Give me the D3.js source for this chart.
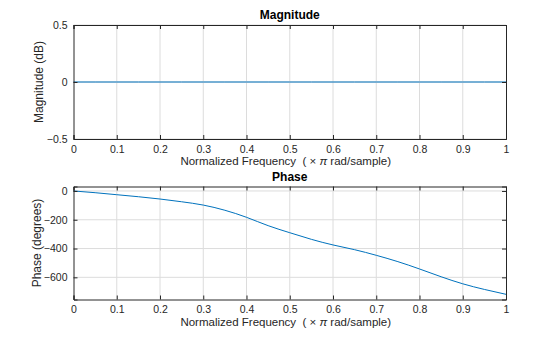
<!DOCTYPE html>
<html>
<head>
<meta charset="utf-8">
<script src="https://d3js.org/d3.v7.min.js"></script>
<style>
  body { margin: 0; background: #fff; }
  svg { display: block; font-family: "Liberation Sans", Arial, sans-serif; }
  .grid line { stroke: #dcdcdc; stroke-width: 1; }
  .tick text { fill: #262626; font-size: 10.5px; }
  .xlab { white-space: pre; }
</style>
</head>
<body>
<svg id="chart" width="560" height="337"></svg>
<script>
// normalized frequency (x pi rad/sample)
const freq = [0, 0.05, 0.1, 0.15, 0.2, 0.25, 0.3, 0.35, 0.4, 0.45, 0.5,
              0.55, 0.6, 0.65, 0.7, 0.75, 0.8, 0.85, 0.9, 0.95, 1];
// magnitude response (dB) - flat, allpass
const magDb = [0, 0, 0, 0, 0, 0, 0, 0, 0, 0, 0,
               0, 0, 0, 0, 0, 0, 0, 0, 0, 0];
// phase response (degrees)
const phaseDeg = [0, -12, -26, -40, -56, -75, -98, -134, -183, -241, -290,
                  -336, -375, -408, -447, -491, -542, -596, -645, -684, -718];

const xTicks = [0, 0.1, 0.2, 0.3, 0.4, 0.5, 0.6, 0.7, 0.8, 0.9, 1];
const magTicks = [-0.5, 0, 0.5];
const phaseTicks = [-600, -400, -200, 0];

const svg = d3.select("#chart");
const left = 73.5, right = 506;
const axisColor = "#262626";
const lineColor = "#0072bd";

function panel(opts) {
  const x = d3.scaleLinear().domain([0, 1]).range([left, right]);
  const y = d3.scaleLinear().domain(opts.yDomain).range([opts.bottom, opts.top]);
  const g = svg.append("g");

  // grid
  const grid = g.append("g").attr("class", "grid");
  grid.selectAll(".gx").data(xTicks.slice(1, -1)).join("line")
    .attr("x1", d => x(d)).attr("x2", d => x(d))
    .attr("y1", opts.top).attr("y2", opts.bottom);
  grid.selectAll(".gy").data(opts.yTicks).join("line")
    .attr("x1", left).attr("x2", right)
    .attr("y1", d => y(d)).attr("y2", d => y(d));

  // data line
  const line = d3.line().x((d, i) => x(freq[i])).y(d => y(d)).curve(d3.curveNatural);
  g.append("path").datum(opts.values)
    .attr("fill", "none").attr("stroke", lineColor).attr("stroke-width", 1)
    .attr("d", line);

  // axes (ticks inside, mirrored on all sides)
  const axB = g.append("g").attr("transform", `translate(0,${opts.bottom})`)
    .call(d3.axisBottom(x).tickValues(xTicks).tickSize(-4).tickPadding(8).tickFormat(d3.format("")));
  const axT = g.append("g").attr("transform", `translate(0,${opts.top})`)
    .call(d3.axisTop(x).tickValues(xTicks).tickSize(-4).tickFormat(""));
  const axL = g.append("g").attr("transform", `translate(${left},0)`)
    .call(d3.axisLeft(y).tickValues(opts.yTicks).tickSize(-4).tickPadding(6).tickFormat(d3.format("")));
  const axR = g.append("g").attr("transform", `translate(${right},0)`)
    .call(d3.axisRight(y).tickValues(opts.yTicks).tickSize(-4).tickFormat(""));
  [axB, axT, axL, axR].forEach(a => {
    a.selectAll(".domain").attr("stroke", axisColor);
    a.selectAll(".tick line").attr("stroke", axisColor);
    a.selectAll(".tick text").attr("fill", axisColor);
  });
  axB.selectAll(".tick text").attr("dy", "0.55em");

  // title
  g.append("text").attr("x", (left + right) / 2).attr("y", opts.top - 6)
    .attr("text-anchor", "middle").attr("font-size", 12).attr("font-weight", "bold")
    .attr("fill", "#000").text(opts.title);

  // x label
  const xl = g.append("text").attr("class", "xlab")
    .attr("x", (left + right) / 2 - 4).attr("y", opts.bottom + 26)
    .attr("text-anchor", "middle").attr("font-size", 11.5).attr("fill", axisColor);
  xl.append("tspan").text("Normalized Frequency  ( \u00d7 ");
  xl.append("tspan").attr("font-style", "italic").text("\u03c0");
  xl.append("tspan").text(" rad/sample)");

  // y label
  g.append("text")
    .attr("transform", `translate(${opts.yLabelX},${(opts.top + opts.bottom) / 2}) rotate(-90)`)
    .attr("text-anchor", "middle").attr("font-size", 12).attr("fill", axisColor)
    .text(opts.yLabel);
}

panel({
  top: 25, bottom: 139, yDomain: [-0.5, 0.5], yTicks: magTicks,
  values: magDb, title: "Magnitude", yLabel: "Magnitude (dB)", yLabelX: 42.5
});

panel({
  top: 186.5, bottom: 299.5, yDomain: [-754, 31], yTicks: phaseTicks,
  values: phaseDeg, title: "Phase", yLabel: "Phase (degrees)", yLabelX: 40.5
});
</script>
</body>
</html>
